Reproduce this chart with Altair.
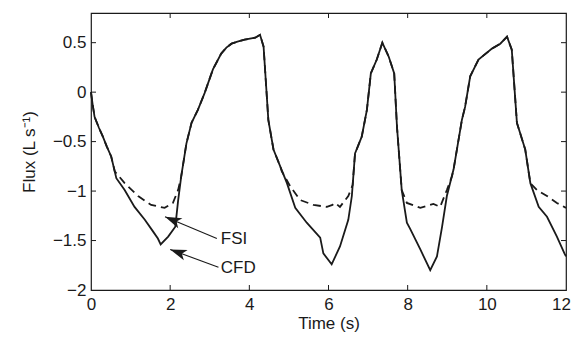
import math
import altair as alt
import pandas as pd

# ---- data ----
cfd_t = [0.0, 0.04, 0.09, 0.20, 0.30, 0.40, 0.51, 0.64, 0.85, 1.10, 1.36, 1.57, 1.69, 1.76, 1.95, 2.13,
         2.20, 2.28, 2.41, 2.54, 2.70, 2.87, 3.08, 3.29, 3.42, 3.55, 3.70, 3.88, 4.15, 4.27, 4.36,
         4.42, 4.48, 4.61, 4.78, 4.95, 5.16, 5.45, 5.79, 5.87, 6.08, 6.29, 6.50, 6.59,
         6.67, 6.84, 6.97, 7.07, 7.22, 7.36, 7.52, 7.66, 7.73, 7.85, 7.98, 8.06, 8.32,
         8.57, 8.74, 8.87, 8.99, 9.16, 9.37, 9.45, 9.58, 9.79, 10.13, 10.34, 10.51,
         10.63, 10.76, 10.97, 11.10, 11.31, 11.52, 11.77, 11.96, 12.0]
cfd_y = [0.0, -0.12, -0.25, -0.36, -0.45, -0.55, -0.65, -0.87, -0.99, -1.16, -1.29, -1.41, -1.48, -1.54, -1.46, -1.36,
         -1.10, -0.85, -0.52, -0.31, -0.18, -0.01, 0.23, 0.39, 0.45, 0.49, 0.51, 0.53, 0.55, 0.58, 0.46,
         0.09, -0.28, -0.58, -0.75, -0.92, -1.17, -1.32, -1.47, -1.63, -1.74, -1.56, -1.29, -1.05,
         -0.62, -0.45, -0.18, 0.19, 0.33, 0.50, 0.36, 0.19, -0.35, -0.99, -1.32, -1.38, -1.59,
         -1.80, -1.66, -1.36, -1.05, -0.78, -0.28, -0.15, 0.16, 0.33, 0.44, 0.49, 0.56,
         0.43, -0.31, -0.58, -0.92, -1.16, -1.26, -1.46, -1.63, -1.66]

fsi_t = [0.0, 0.04, 0.09, 0.20, 0.30, 0.40, 0.51, 0.60, 0.85, 1.19, 1.52, 1.86, 2.07, 2.20, 2.28,
         2.41, 2.54, 2.70, 2.87, 3.08, 3.29, 3.42, 3.55, 3.70, 3.88, 4.15, 4.27, 4.36,
         4.42, 4.48, 4.61, 4.78, 4.82, 5.03, 5.28, 5.62, 5.96, 6.10, 6.17, 6.29, 6.50, 6.61,
         6.67, 6.84, 6.97, 7.07, 7.22, 7.36, 7.52, 7.66, 7.73, 7.85, 7.98, 8.32,
         8.65, 8.82, 8.99, 9.12, 9.16, 9.37, 9.45, 9.58, 9.79, 10.13, 10.34, 10.51,
         10.63, 10.76, 10.97, 11.10, 11.27, 11.52, 11.77, 12.0]
fsi_y = [0.0, -0.12, -0.25, -0.36, -0.45, -0.55, -0.65, -0.80, -0.92, -1.05, -1.14, -1.17, -1.12, -0.99, -0.85,
         -0.52, -0.31, -0.18, -0.01, 0.23, 0.39, 0.45, 0.49, 0.51, 0.53, 0.55, 0.58, 0.46,
         0.09, -0.28, -0.58, -0.75, -0.80, -0.95, -1.09, -1.14, -1.16, -1.14, -1.12, -1.16, -1.05, -0.94,
         -0.62, -0.45, -0.18, 0.19, 0.33, 0.50, 0.36, 0.19, -0.35, -0.99, -1.12, -1.17,
         -1.13, -1.16, -0.99, -0.85, -0.78, -0.28, -0.15, 0.16, 0.33, 0.44, 0.49, 0.56,
         0.43, -0.31, -0.58, -0.92, -0.99, -1.05, -1.12, -1.17]

labels = ["FSI", "CFD"]
label_x = [3.28, 3.28]
label_y = [-1.48, -1.78]
arrow_tail_x = [3.18, 3.22]
arrow_tail_y = [-1.48, -1.77]
arrow_tip_x = [1.87, 2.00]
arrow_tip_y = [-1.26, -1.59]

x_ticks = [2, 4, 6, 8, 10]
y_ticks = [-1.5, -1, -0.5, 0, 0.5]

X_DOMAIN = [0, 12]
Y_DOMAIN = [-2, 0.8]
W, H = 475, 277
INK = "#1a1a1a"
FONT = "Liberation Sans"

# ---- tables ----
cfd = pd.DataFrame({"t": cfd_t, "q": cfd_y})
fsi = pd.DataFrame({"t": fsi_t, "q": fsi_y})

angles = []
for tx, ty, hx, hy in zip(arrow_tail_x, arrow_tail_y, arrow_tip_x, arrow_tip_y):
    dx = (tx - hx) * W / (X_DOMAIN[1] - X_DOMAIN[0])
    dy = -(ty - hy) * H / (Y_DOMAIN[1] - Y_DOMAIN[0])
    angles.append(math.degrees(math.atan2(dy, dx)) % 360)

ann = pd.DataFrame({
    "label": labels, "lx": label_x, "ly": label_y,
    "tx": arrow_tail_x, "ty": arrow_tail_y,
    "hx": arrow_tip_x, "hy": arrow_tip_y, "ang": angles,
})
xt = pd.DataFrame({"v": x_ticks})
yt = pd.DataFrame({"v": y_ticks})

xs = alt.Scale(domain=X_DOMAIN, nice=False, zero=False)
ys = alt.Scale(domain=Y_DOMAIN, nice=False, zero=False)

x_axis = alt.Axis(values=[0, 2, 4, 6, 8, 10, 12], format="d", title="Time (s)",
                  tickSize=0, domain=False, grid=False, labelPadding=6,
                  titlePadding=3, labelFlush=False,
                  labelOffset={"condition": {"test": "datum.value === 12", "value": -5}, "value": 0},
                  labelFont=FONT, titleFont=FONT, labelFontSize=17, titleFontSize=17,
                  labelColor=INK, titleColor=INK, titleFontWeight="normal")
y_axis = alt.Axis(values=[-2, -1.5, -1, -0.5, 0, 0.5], format="~g", title="Flux (L s⁻¹)",
                  tickSize=0, domain=False, grid=False, labelPadding=5,
                  titlePadding=14, labelFlush=False,
                  labelFont=FONT, titleFont=FONT, labelFontSize=17, titleFontSize=17,
                  labelColor=INK, titleColor=INK, titleFontWeight="normal")

fsi_line = alt.Chart(fsi).mark_line(color=INK, strokeWidth=1.8, strokeDash=[8, 5]).encode(
    x=alt.X("t:Q", scale=xs, axis=x_axis),
    y=alt.Y("q:Q", scale=ys, axis=y_axis),
    order="t:Q",
)
cfd_line = alt.Chart(cfd).mark_line(color=INK, strokeWidth=1.8).encode(
    x=alt.X("t:Q", scale=xs), y=alt.Y("q:Q", scale=ys), order="t:Q"
)

arrows = alt.Chart(ann).mark_rule(color=INK, strokeWidth=1.1).encode(
    x=alt.X("tx:Q", scale=xs), y=alt.Y("ty:Q", scale=ys),
    x2="hx:Q", y2="hy:Q",
)
heads = alt.Chart(ann).mark_point(
    shape="M0,0 L1,-0.33 L0.75,0 L1,0.33 Z", filled=True, color=INK,
    opacity=1, size=1100, strokeWidth=0,
).encode(
    x=alt.X("hx:Q", scale=xs), y=alt.Y("hy:Q", scale=ys),
    angle=alt.Angle("ang:Q", scale=None),
)
texts = alt.Chart(ann).mark_text(align="left", baseline="middle", font=FONT,
                                 fontSize=17, color=INK).encode(
    x=alt.X("lx:Q", scale=xs), y=alt.Y("ly:Q", scale=ys), text="label:N"
)

TL = 5
bottom_ticks = alt.Chart(xt).mark_rule(color=INK, strokeWidth=1).encode(
    x=alt.X("v:Q", scale=xs), y=alt.value(H), y2=alt.value(H - TL))
top_ticks = alt.Chart(xt).mark_rule(color=INK, strokeWidth=1).encode(
    x=alt.X("v:Q", scale=xs), y=alt.value(0), y2=alt.value(TL))
left_ticks = alt.Chart(yt).mark_rule(color=INK, strokeWidth=1).encode(
    y=alt.Y("v:Q", scale=ys), x=alt.value(0), x2=alt.value(TL))
right_ticks = alt.Chart(yt).mark_rule(color=INK, strokeWidth=1).encode(
    y=alt.Y("v:Q", scale=ys), x=alt.value(W), x2=alt.value(W - TL))

chart = alt.layer(
    fsi_line, cfd_line, arrows, heads, texts,
    bottom_ticks, top_ticks, left_ticks, right_ticks,
).properties(
    width=W, height=H,
    autosize=alt.AutoSizeParams(type="none"),
    padding={"left": 83, "top": 5, "right": 5, "bottom": 42},
    background="white",
).configure_view(
    stroke=INK, strokeWidth=1.2
)

chart.save("out.html", embed_options={"renderer": "svg", "actions": False})
